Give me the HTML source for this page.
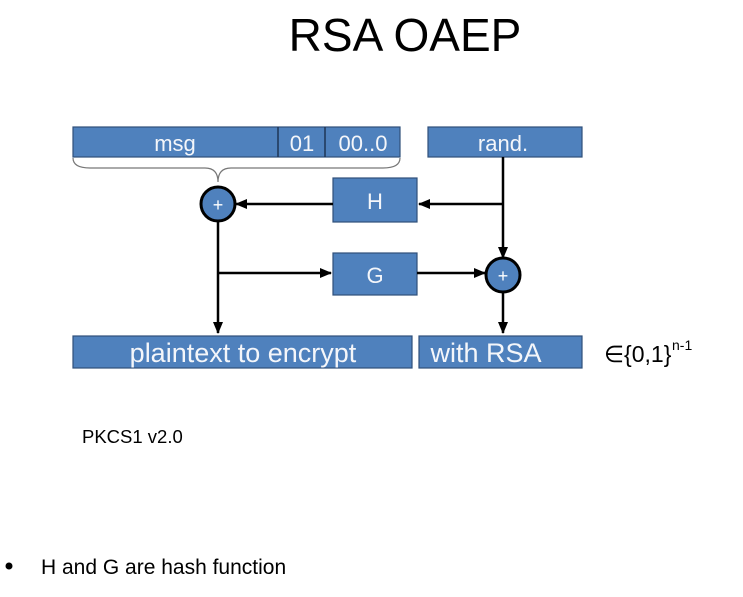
<!DOCTYPE html>
<html><head><style>
body{margin:0;background:#fff;width:743px;height:592px;overflow:hidden;font-family:"Liberation Sans",sans-serif;}
</style></head><body>
<svg width="743" height="592" xmlns="http://www.w3.org/2000/svg" font-family="Liberation Sans, sans-serif">
<defs><marker id="a" markerWidth="12" markerHeight="12" refX="11" refY="6" orient="auto" markerUnits="userSpaceOnUse"><path d="M0,1 L12,6 L0,11 z" fill="#000"/></marker></defs>
<text x="405" y="51" font-size="46" text-anchor="middle" fill="#000">RSA OAEP</text>
<g fill="#4f81bd" stroke="#2f4f7a" stroke-width="1.2">
<rect x="73" y="127" width="327" height="30"/>
<rect x="428" y="127" width="154" height="30"/>
<rect x="333" y="178" width="84" height="44"/>
<rect x="333" y="253" width="84" height="42"/>
<rect x="73" y="336" width="339" height="32"/>
<rect x="419" y="336" width="163" height="32"/>
</g>
<line x1="278" y1="127" x2="278" y2="157" stroke="#1f3555" stroke-width="1.5"/>
<line x1="325" y1="127" x2="325" y2="157" stroke="#1f3555" stroke-width="1.5"/>
<g fill="#f4f6fa" font-size="22" text-anchor="middle">
<text x="175" y="151">msg</text><text x="302" y="151">01</text><text x="363" y="151">00..0</text>
<text x="503" y="151">rand.</text><text x="375" y="209">H</text><text x="375" y="283">G</text>
<text x="243" y="362" font-size="27">plaintext to encrypt</text><text x="486" y="362" font-size="27">with RSA</text>
</g>
<path d="M73,158 Q73,168 90,168 L205,168 Q218,168 218,182 Q218,168 231,168 L383,168 Q400,168 400,158" fill="none" stroke="#777" stroke-width="1.2"/>
<g stroke="#000" stroke-width="2.5" fill="none">
<line x1="503" y1="157" x2="503" y2="258" marker-end="url(#a)"/>
<line x1="503" y1="204" x2="419" y2="204" marker-end="url(#a)"/>
<line x1="333" y1="204" x2="236" y2="204" marker-end="url(#a)"/>
<line x1="218" y1="221" x2="218" y2="333" marker-end="url(#a)"/>
<line x1="218" y1="273" x2="331" y2="273" marker-end="url(#a)"/>
<line x1="417" y1="273" x2="485" y2="273" marker-end="url(#a)"/>
<line x1="503" y1="292" x2="503" y2="333" marker-end="url(#a)"/>
</g>
<circle cx="218" cy="204" r="17" fill="#4f81bd" stroke="#000" stroke-width="3"/>
<circle cx="503" cy="275" r="17" fill="#4f81bd" stroke="#000" stroke-width="3"/>
<text x="218" y="211" fill="#fff" font-size="18" text-anchor="middle">+</text>
<text x="503" y="282" fill="#fff" font-size="18" text-anchor="middle">+</text>
<text x="604" y="362" font-size="23" fill="#000">∈{0,1}</text><text x="672" y="350" font-size="14" fill="#000">n-1</text>
<text x="82" y="443" font-size="18.5" fill="#000">PKCS1 v2.0</text>
<circle cx="9" cy="566" r="3.5" fill="#000"/>
<text x="41" y="574" font-size="21" fill="#000">H and G are hash function</text>
</svg>
</body></html>
